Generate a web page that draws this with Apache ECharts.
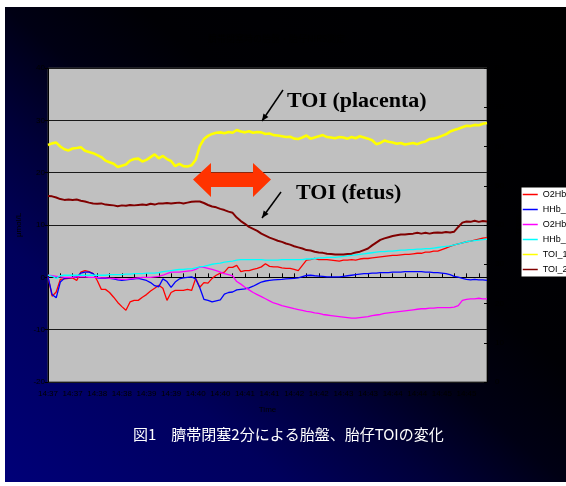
<!DOCTYPE html>
<html>
<head>
<meta charset="utf-8">
<script src="https://cdn.jsdelivr.net/npm/echarts@6.0.0/dist/echarts.min.js"></script>
<style>
  html, body { margin: 0; padding: 0; background: #fff; width: 566px; height: 486px; overflow: hidden; }
  #panel { position: absolute; left: 5px; top: 7px; right: 0; bottom: 4px;
           background: linear-gradient(to top right, #000078 0%, #00005c 25%, #00003a 38%, #000014 50%, #000004 62%, #000000 100%); }
  #chart { position: absolute; left: 0; top: 0; width: 566px; height: 486px; }
</style>
</head>
<body>
<div id="panel"></div>
<div id="chart"></div>
<script>
// NIRS recording, one sample every 5 s starting at 14:37:00
const startHour = 14;
const startMinute = 37;
const sampleStep = 5;

const seriesNames = ['O2Hb_1', 'HHb_1', 'O2Hb_2', 'HHb_2', 'TOI_1', 'TOI_2'];
const seriesColors = ['#ff0000', '#0000ff', '#ff00ff', '#00ffff', '#ffff00', '#800000'];

// Hemoglobin changes (μmol/L), left axis
const o2hb1 = [0.1,-3.6,-2.8,-0.4,-0.3,-0.2,-0.1,-0.6,1.0,1.3,
  1.1,0.7,-0.6,-2.3,-2.3,-2.9,-3.8,-4.8,-5.6,-6.3,
  -4.7,-4.4,-4.4,-3.8,-3.3,-2.6,-2.1,-1.5,-2.1,-4.4,
  -2.9,-2.5,-2.5,-2.5,-2.3,-2.5,-0.2,-1.9,-1.0,-1.1,
  -0.2,0.4,0.8,1.0,1.9,1.9,2.3,1.1,1.3,
  1.3,1.5,1.7,2.0,2.6,2.1,2.0,2.0,1.8,1.7,
  1.7,1.5,1.3,2.3,3.3,3.4,3.6,3.4,3.4,3.4,
  3.3,3.2,3.1,3.3,3.3,3.4,3.3,3.5,3.6,3.6,
  3.7,3.8,3.9,4.0,4.1,4.2,4.2,4.3,4.4,4.4,
  4.5,4.6,4.6,4.8,4.8,5.0,5.0,5.3,5.6,5.9,
  6.2,6.4,6.6,6.8,6.9,7.1,7.3,7.5,7.6];

const hhb1 = [0.1,-3.3,-3.9,-0.9,-0.2,-0.1,0.0,0.1,0.8,1.0,
  1.0,0.7,-0.1,-0.2,-0.2,-0.2,-0.3,-0.5,-0.6,-0.5,
  -0.4,-0.3,-0.2,-0.4,-0.6,-1.0,-1.6,-1.8,-0.3,-0.8,
  -1.9,-0.9,-0.3,-0.1,0.0,0.1,-0.3,-2.0,-4.2,-4.4,
  -4.7,-4.5,-4.3,-3.2,-2.9,-2.8,-2.4,-2.3,-2.2,
  -2.0,-1.7,-1.3,-0.9,-0.7,-0.6,-0.5,-0.45,-0.4,-0.3,
  -0.25,-0.2,-0.1,0.15,0.35,0.4,0.3,0.25,0.2,0.1,
  0.1,0.1,0.1,0.2,0.3,0.4,0.5,0.6,0.7,0.7,
  0.8,0.8,0.9,0.9,0.9,1.0,1.0,1.0,1.1,1.1,
  1.1,1.1,1.1,1.0,1.0,0.9,0.9,0.8,0.7,0.5,
  0.2,0.05,-0.2,-0.4,-0.5,-0.4,-0.5,-0.5,-0.6];

const o2hb2 = [0.4,0.3,0.2,0.1,0.0,0.0,0.0,0.1,0.1,0.1,
  0.0,0.0,0.0,-0.1,-0.1,-0.2,-0.2,-0.3,-0.4,-0.4,
  -0.3,-0.2,-0.1,0.0,0.0,0.0,0.1,0.2,0.4,0.7,
  1.0,1.0,1.0,1.1,1.2,1.3,1.5,2.0,1.9,1.7,
  1.5,1.3,1.0,0.7,0.5,0.3,-0.8,-1.3,-1.9,
  -2.4,-2.9,-3.3,-3.7,-4.1,-4.5,-4.9,-5.1,-5.4,-5.6,
  -5.8,-6.0,-6.15,-6.3,-6.5,-6.6,-6.8,-6.9,-7.1,-7.2,
  -7.3,-7.4,-7.5,-7.6,-7.7,-7.8,-7.8,-7.7,-7.6,-7.5,
  -7.3,-7.2,-7.1,-6.9,-6.8,-6.7,-6.6,-6.5,-6.4,-6.3,
  -6.2,-6.1,-6.0,-6.0,-5.9,-5.9,-5.8,-5.8,-5.8,-5.8,
  -5.7,-5.4,-4.4,-4.2,-4.1,-4.1,-4.0,-4.1,-4.1];

const hhb2 = [0.4,0.2,-0.2,0.3,0.4,0.4,0.4,0.4,0.4,0.4,
  0.4,0.4,0.4,0.4,0.4,0.5,0.5,0.5,0.5,0.6,
  0.6,0.7,0.7,0.7,0.8,0.8,0.8,0.9,1.1,1.2,
  1.3,1.4,1.5,1.5,1.6,1.6,1.8,2.0,2.1,2.3,
  2.5,2.6,2.7,2.9,3.0,3.1,3.3,3.4,3.4,
  3.4,3.4,3.4,3.4,3.3,3.3,3.3,3.3,3.4,3.4,
  3.4,3.4,3.4,3.4,3.5,3.5,3.6,3.7,3.7,3.8,
  3.8,3.8,3.9,4.0,4.1,4.2,4.3,4.4,4.5,4.6,
  4.7,4.8,4.9,4.9,5.0,5.0,5.1,5.2,5.2,5.3,
  5.3,5.4,5.4,5.5,5.5,5.6,5.7,5.8,5.9,6.0,
  6.2,6.4,6.6,6.8,6.9,7.0,7.1,7.2,7.3];

// Tissue oxygenation index (%), right axis
const toi1 = [60.4,60.8,61.0,60.0,59.3,59.0,59.5,59.6,59.8,58.9,
  58.6,58.3,57.8,57.3,56.4,56.0,55.6,54.8,55.1,55.4,
  56.4,56.8,56.9,56.2,56.6,57.3,58.0,57.0,57.6,56.8,
  56.3,55.0,55.6,55.0,54.9,55.2,56.6,60.1,61.9,62.7,
  63.2,63.5,63.6,63.4,63.7,63.5,64.2,63.8,63.6,
  63.9,63.5,63.7,63.6,63.2,63.3,62.9,62.8,62.6,62.4,
  62.5,62.0,61.9,62.3,62.8,62.0,62.3,62.6,62.9,62.4,
  62.3,62.1,62.4,62.3,62.0,62.4,62.1,62.6,62.3,62.0,
  61.6,60.6,60.9,61.5,61.2,61.0,60.7,60.9,60.5,60.7,
  60.9,60.6,61.0,61.3,61.9,62.0,62.3,62.7,63.1,63.8,
  64.2,64.5,64.9,65.3,65.2,65.5,65.4,65.8,66.0];

const toi2 = [47.4,47.3,47.0,46.6,46.4,46.5,46.4,46.5,46.2,46.0,
  45.7,45.5,45.4,45.5,45.2,45.1,45.0,44.8,45.0,44.9,
  45.1,45.0,45.1,45.2,45.1,45.4,45.2,45.5,45.5,45.6,
  45.5,45.6,45.7,45.5,45.7,45.9,46.0,46.0,45.6,45.1,
  44.7,44.5,44.1,43.8,43.4,43.1,41.9,41.0,40.3,
  39.5,39.0,38.5,37.8,37.3,36.8,36.4,36.0,35.7,35.3,
  35.0,34.6,34.3,34.0,33.6,33.5,33.2,33.0,32.9,32.7,
  32.6,32.5,32.5,32.5,32.6,32.7,33.0,33.2,33.6,34.0,
  34.8,35.5,36.2,36.6,36.9,37.2,37.4,37.6,37.6,37.7,
  37.8,38.0,37.8,38.0,37.8,38.0,38.1,38.0,38.2,38.1,
  38.3,39.5,40.6,40.9,40.8,41.1,40.8,41.0,40.9];

const seriesValues = [o2hb1, hhb1, o2hb2, hhb2, toi1, toi2];
const seriesAxis = [0, 0, 0, 0, 1, 1];
const seriesWidth = [1.3, 1.3, 1.3, 1.3, 2.6, 2];

// Axis ranges
const leftMin = -20, leftMax = 40, leftStep = 10;
const rightMin = 0, rightMax = 80, rightStep = 10;
const timeMax = 535, tickStep = 15, labelStep = 30;

const chartTitle = '臍帯閉塞時の胎盤・胎仔NIRS測定';
const caption = '図1　臍帯閉塞2分による胎盤、胎仔TOIの変化';

function timeLabel(sec) {
  if (sec % labelStep !== 0) return '';
  const m = startMinute + Math.floor(sec / 60);
  return startHour + ':' + (m < 10 ? '0' + m : m);
}

function arrowHead(x1, y1, x2, y2, len, half) {
  const a = Math.atan2(y2 - y1, x2 - x1);
  const c = Math.cos(a), s = Math.sin(a);
  return [[x2, y2],
          [x2 - len * c + half * s, y2 - len * s - half * c],
          [x2 - len * c - half * s, y2 - len * s + half * c]];
}

function pointer(x1, y1, x2, y2) {
  return [
    { type: 'line', z: 100, shape: { x1: x1, y1: y1, x2: x2, y2: y2 },
      style: { stroke: '#000', lineWidth: 1.5 } },
    { type: 'polygon', z: 100, shape: { points: arrowHead(x1, y1, x2, y2, 7, 3) },
      style: { fill: '#000' } }
  ];
}

const chart = echarts.init(document.getElementById('chart'), null, { renderer: 'canvas' });

const axisText = { fontSize: 8, color: '#000', fontFamily: 'Liberation Sans' };

const option = {
  animation: false,
  backgroundColor: 'transparent',
  grid: { left: 48, top: 68, width: 439, height: 314, show: true,
          backgroundColor: '#c0c0c0', borderColor: '#404040', borderWidth: 1 },
  legend: {
    orient: 'vertical', left: 521, top: 187,
    padding: [3, 40, 3, 1], itemWidth: 15, itemHeight: 7, itemGap: 6,
    itemStyle: { opacity: 0 },
    lineStyle: { width: 1.5 },
    backgroundColor: '#fff', borderColor: '#000', borderWidth: 1,
    textStyle: { fontSize: 9, color: '#000', fontFamily: 'Liberation Sans' },
    data: seriesNames
  },
  xAxis: {
    type: 'value', min: 0, max: timeMax, interval: tickStep,
    axisLine: { show: true, lineStyle: { color: '#000', width: 1 } },
    axisTick: { show: true, inside: true, length: 4, lineStyle: { color: '#000' } },
    axisLabel: Object.assign({ margin: 8, formatter: timeLabel }, axisText),
    splitLine: { show: false },
    name: 'Time', nameLocation: 'middle', nameGap: 24, nameTextStyle: axisText
  },
  yAxis: [
    {
      type: 'value', min: leftMin, max: leftMax, interval: leftStep,
      axisLine: { show: true, lineStyle: { color: '#000', width: 1 } },
      axisTick: { show: true, length: 3, lineStyle: { color: '#000' } },
      axisLabel: Object.assign({ margin: 3 }, axisText),
      splitLine: { show: true, lineStyle: { color: '#1a1a1a', width: 1 } },
      name: 'μmol/L', nameLocation: 'middle', nameGap: 22, nameTextStyle: axisText
    },
    {
      type: 'value', min: rightMin, max: rightMax, interval: rightStep, position: 'right',
      axisLine: { show: true, lineStyle: { color: '#000', width: 1 } },
      axisTick: { show: true, inside: true, length: 3, lineStyle: { color: '#000' } },
      axisLabel: Object.assign({ margin: 8 }, axisText),
      splitLine: { show: false },
      name: 'TOI%', nameLocation: 'middle', nameGap: 21, nameTextStyle: axisText
    }
  ],
  series: seriesNames.map((name, k) => ({
    name: name,
    type: 'line',
    yAxisIndex: seriesAxis[k],
    symbol: 'none',
    color: seriesColors[k],
    lineStyle: { color: seriesColors[k], width: seriesWidth[k] },
    data: seriesValues[k].map((v, i) => [i * sampleStep, v])
  })),
  graphic: [
    { type: 'text', z: 100, left: 270 - 62, top: 34,
      style: { text: chartTitle, fill: '#000', font: '9px "Noto Sans CJK JP"' } },
    { type: 'text', z: 100, x: 287, y: 101,
      style: { text: 'TOI (placenta)', fill: '#000', font: 'bold 22px "Liberation Serif"',
               textAlign: 'left', textVerticalAlign: 'middle' } },
    { type: 'text', z: 100, x: 296, y: 193,
      style: { text: 'TOI (fetus)', fill: '#000', font: 'bold 22px "Liberation Serif"',
               textAlign: 'left', textVerticalAlign: 'middle' } },
    ...pointer(283, 90, 262, 121),
    ...pointer(281, 192, 262, 218),
    { type: 'polygon', z: 100,
      shape: { points: [[193, 179.5], [211, 163], [211, 172.5], [253, 172.5], [253, 163],
                        [271, 179.5], [253, 197], [253, 187], [211, 187], [211, 197]] },
      style: { fill: '#ff3300' } },
    { type: 'text', z: 100, x: 133, y: 434,
      style: { text: caption, fill: '#fff', font: '15px "Noto Sans CJK JP"',
               textAlign: 'left', textVerticalAlign: 'middle' } }
  ]
};

chart.setOption(option);
</script>
</body>
</html>
